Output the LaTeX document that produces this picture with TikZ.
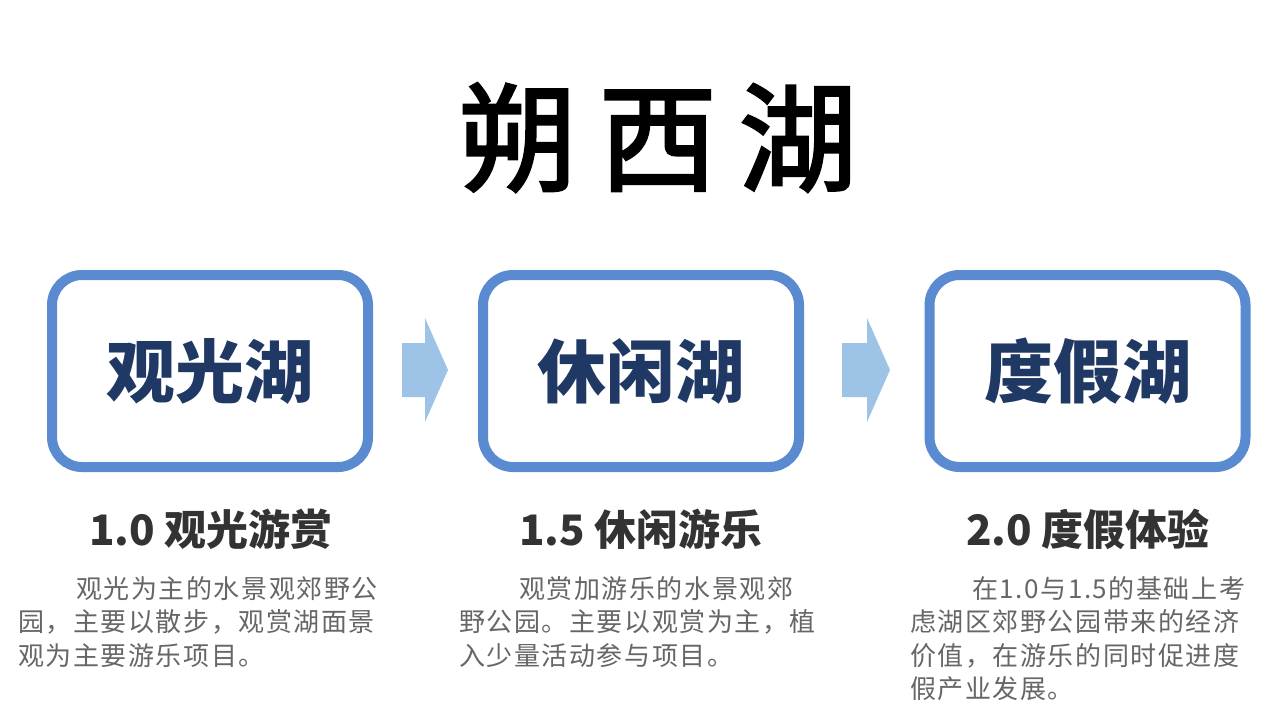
\documentclass[tikz,border=0pt]{standalone}
\usepackage{fontspec}
\setmainfont{Noto Sans CJK SC}
\newfontfamily\cjk{Noto Sans CJK SC}
\newfontfamily\cjktitle[FakeBold=2.5]{Noto Sans CJK SC}
\newfontfamily\cjkbody[LetterSpace=6]{Noto Sans CJK SC}
\usetikzlibrary{calc}
\definecolor{boxblue}{HTML}{5A8AD0}
\definecolor{arrowblue}{HTML}{9DC3E6}
\definecolor{navy}{HTML}{1F3864}
\definecolor{headgray}{HTML}{333333}
\definecolor{bodygray}{HTML}{666666}
\tikzset{
  lakebox/.style={draw=boxblue, line width=10pt, rounded corners=30pt, fill=white,
    minimum width=316pt, minimum height=192pt, inner sep=0pt,
    text=navy, font=\cjk\bfseries\fontsize{69}{69}\selectfont},
  headtxt/.style={text=headgray, inner sep=0pt, font=\cjk\bfseries\fontsize{42}{42}\selectfont},
  bodytxt/.style={text=bodygray, inner sep=0pt, anchor=north west, align=left,
    font=\cjkbody\fontsize{26}{33.5}\selectfont},
  blockarrow/.style={fill=arrowblue, draw=none}
}
\begin{document}
\begin{tikzpicture}[x=1pt,y=-1pt]
\useasboundingbox (0,0) rectangle (1280,721);
\fill[white] (0,0) rectangle (1280,721);
% title
\node[anchor=base, inner sep=0pt, font=\cjktitle\fontsize{118}{118}\selectfont] (title) at (658,182) {朔\hspace{22pt}西\hspace{22pt}湖};
% boxes
\node[lakebox] (b1) at (210,371) {观光湖};
\node[lakebox] (b2) at (641,371) {休闲湖};
\node[lakebox] (b3) at (1087.5,371) {度假湖};
% arrows
\coordinate (a1) at (402,370);
\coordinate (a2) at (842,370);
\fill[blockarrow] (a1) ++(0,-27) -- ++(23,0) -- ++(0,-25) -- ++(23,52) -- ++(-23,52) -- ++(0,-25) -- ++(-23,0) -- cycle;
\fill[blockarrow] (a2) ++(0,-27) -- ++(25,0) -- ++(0,-25) -- ++(23,52) -- ++(-23,52) -- ++(0,-25) -- ++(-25,0) -- cycle;
% headings
\node[headtxt] (h1) at (211,529) {1.0 观光游赏};
\node[headtxt] (h2) at (641,529) {1.5 休闲游乐};
\node[headtxt] (h3) at (1088,529) {2.0 度假体验};
% bodies
\node[bodytxt] (t1) at (18,576) {\hspace*{58pt}观光为主的水景观郊野公\\园，主要以散步，观赏湖面景\\观为主要游乐项目。};
\node[bodytxt] (t2) at (459,576) {\hspace*{60pt}观赏加游乐的水景观郊\\野公园。主要以观赏为主，植\\入少量活动参与项目。};
\node[bodytxt] (t3) at (910,576) {\hspace*{62pt}在1.0与1.5的基础上考\\虑湖区郊野公园带来的经济\\价值，在游乐的同时促进度\\假产业发展。};
\end{tikzpicture}
\end{document}
